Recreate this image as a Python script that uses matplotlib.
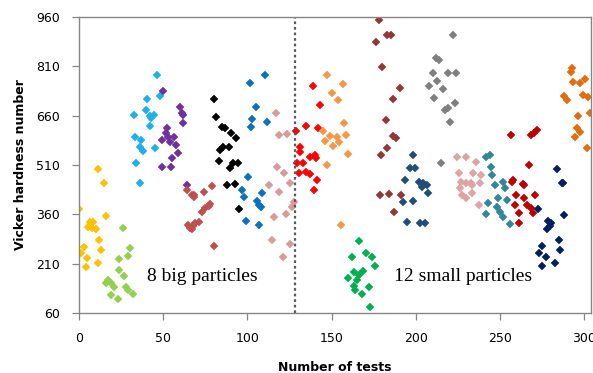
import matplotlib
matplotlib.use("Agg")
import matplotlib.pyplot as plt

# Hardness readings per particle: (test number, Vickers hardness)
p1_x = [0, 16, 6.5, 8.5, 5.5, 8, 10, 12, 3, 1, 13, 5, 11, 4, 11, 15]
p1_y = [376, 356, 338, 338, 322, 318, 314, 282, 262, 241, 252, 226, 211, 201, 498, 455]
p2_x = [26, 30, 24, 29, 24, 27, 17, 19, 21, 28, 19, 23, 32, 29, 16]
p2_y = [318, 259, 223, 233, 191, 172, 160, 150, 138, 140, 115, 102, 118, 130, 150]
p3_x = [46.5, 48, 40.5, 39.5, 32.5, 42, 44.5, 43, 42, 33, 37, 36, 38, 45, 34, 36]
p3_y = [784, 721, 710, 677, 663, 659, 662, 652, 629, 594, 586, 566, 553, 561, 515, 456]
p4_x = [50, 60, 61, 62, 61.5, 52, 51.5, 53, 56.5, 49, 54, 57.5, 58.5, 55.5, 49.5, 54.5, 64]
p4_y = [736, 685, 669, 662, 639, 622, 606, 596, 596, 586, 581, 571, 547, 530, 503, 503, 449]
p5_x = [64, 67, 68.5, 65, 67, 68, 74, 79, 75, 77, 78, 73, 71, 69, 67.5, 66, 80]
p5_y = [434, 419, 412, 328, 314, 419, 429, 446, 378, 385, 391, 368, 338, 333, 323, 318, 264]
p6_x = [80, 81.5, 85, 86.5, 90, 93.5, 85.5, 89, 84, 83, 91.5, 94.5, 89.5, 88, 92.5, 95]
p6_y = [710, 655, 626, 621, 608, 591, 564, 566, 556, 522, 517, 517, 500, 449, 451, 375]
p7_x = [101.5, 110.5, 105, 103, 102, 111.5, 100.5, 96.5, 98, 108.5, 105.5, 107, 108, 99, 107]
p7_y = [758, 784, 685, 649, 626, 642, 474, 434, 414, 424, 402, 388, 381, 341, 328]
p8_x = [117, 119, 123.5, 117.5, 122, 125.5, 113, 118.5, 127.5, 126.5, 123, 115.5, 114.5, 125, 121]
p8_y = [667, 601, 604, 505, 485, 454, 449, 429, 398, 383, 361, 353, 282, 270, 229]

s1_x = [139, 143, 135, 129, 142, 131, 131.5, 137, 140, 141, 129.5, 133, 134.5, 137, 141.5, 130.5, 139.5]
s1_y = [750, 692, 629, 614, 621, 566, 550, 535, 540, 530, 517, 515, 490, 483, 464, 485, 434]
s2_x = [147, 157, 150, 154, 157.5, 145, 149, 146, 153, 158.5, 151, 154.5, 159.5, 147, 155.5]
s2_y = [784, 756, 728, 707, 639, 614, 598, 584, 596, 601, 568, 581, 543, 510, 328]
s3_x = [166, 170.5, 174, 162, 176, 163.5, 168.5, 166.5, 160, 165, 163, 172, 164, 168, 172.5]
s3_y = [280, 243, 231, 229, 203, 186, 189, 176, 166, 160, 142, 140, 130, 118, 79]
s4_x = [178, 183, 176.5, 180, 182, 183, 179.5, 185, 190.5, 186.5, 186.5, 188, 179, 184, 191, 187]
s4_y = [951, 905, 883, 809, 647, 561, 540, 905, 743, 710, 598, 591, 419, 422, 419, 368]
s5_x = [198.5, 196.5, 199.5, 193.5, 202, 204.5, 206.5, 207.5, 192.5, 198.5, 194.5, 202.5, 205.5, 203.5]
s5_y = [540, 500, 500, 464, 459, 454, 449, 424, 398, 401, 338, 333, 333, 444]
s6_x = [222, 212, 214, 210, 219, 224, 212.5, 208, 216, 210.5, 223.5, 219, 217.5, 220.5, 215]
s6_y = [905, 834, 829, 791, 791, 789, 765, 750, 740, 715, 698, 682, 677, 642, 515]
s7_x = [224.5, 229.5, 236, 225.5, 234, 238.5, 227, 232.5, 238, 230, 233.5, 227.5, 229.5, 233.5, 237.5, 226.5]
s7_y = [535, 535, 518, 485, 485, 480, 459, 456, 454, 454, 449, 419, 409, 424, 388, 439]
s8_x = [241.5, 244, 244.5, 245, 252, 247, 253, 243, 249, 254, 241.5, 250, 252, 256, 248]
s8_y = [535, 540, 505, 480, 459, 449, 439, 395, 409, 404, 361, 368, 353, 331, 381]
s9_x = [256.5, 268.5, 272, 270, 267, 257.5, 263.5, 257, 264, 259.5, 264, 270.5, 259, 266, 268.5, 261, 269.5, 261]
s9_y = [601, 601, 616, 608, 510, 464, 451, 459, 449, 419, 409, 419, 388, 388, 378, 365, 365, 333]
s10_x = [284, 287, 287.5, 272.5, 288, 278.5, 280.5, 279.5, 278, 285, 285.5, 275, 273, 277, 275, 282.5]
s10_y = [497, 456, 454, 375, 358, 341, 335, 325, 314, 282, 252, 264, 241, 229, 203, 211]
s11_x = [292.5, 292, 293.5, 297.5, 300.5, 288, 290, 299.5, 302.5, 296.5, 303.5, 295.5, 297.5, 294.5, 301.5]
s11_y = [804, 794, 763, 758, 773, 719, 709, 723, 716, 659, 667, 621, 611, 594, 561]

series = [
    (p1_x, p1_y, "#FFC000"), (p2_x, p2_y, "#92D050"), (p3_x, p3_y, "#1CB0EC"),
    (p4_x, p4_y, "#7030A0"), (p5_x, p5_y, "#C0504D"), (p6_x, p6_y, "#000000"),
    (p7_x, p7_y, "#0A72C4"), (p8_x, p8_y, "#DA9A9A"),
    (s1_x, s1_y, "#FF0000"), (s2_x, s2_y, "#F79646"), (s3_x, s3_y, "#00B050"),
    (s4_x, s4_y, "#943634"), (s5_x, s5_y, "#1F4E79"), (s6_x, s6_y, "#7F7F7F"),
    (s7_x, s7_y, "#E0A3A3"), (s8_x, s8_y, "#31859C"), (s9_x, s9_y, "#C00000"),
    (s10_x, s10_y, "#002060"), (s11_x, s11_y, "#E46C0A"),
]

x_ticks = [0, 50, 100, 150, 200, 250, 300]
y_ticks = [60, 210, 360, 510, 660, 810, 960]
split_at = 128

fig = plt.figure(figsize=(5.93, 3.73), dpi=100)
ax = fig.add_axes([0.1332, 0.1609, 0.8634, 0.7935])

for xs, ys, c in series:
    ax.plot(xs, ys, linestyle="none", marker="D", markersize=4.5,
            markerfacecolor=c, markeredgecolor=c, markeredgewidth=0.3)

ax.axvline(split_at, color="#595959", linestyle=(0, (1.2, 1.3)), linewidth=1.6)

ax.set_xlim(0, 304)
ax.set_ylim(60, 960)
ax.set_xticks(x_ticks)
ax.set_yticks(y_ticks)
ax.tick_params(axis="both", direction="out", length=5, width=0.9, color="#868686",
               labelsize=9, labelcolor="#000000", pad=9)
for sp in ax.spines.values():
    sp.set_color("#868686")
    sp.set_linewidth(1.0)

ax.set_xlabel("Number of tests", fontsize=9, fontweight="bold", labelpad=11)
ax.set_ylabel("Vicker hardness number", fontsize=9, fontweight="bold", labelpad=6)

ax.text(40.5, 172, "8 big particles", fontsize=14, family="Liberation Serif", va="center")
ax.text(187, 172, "12 small particles", fontsize=14, family="Liberation Serif", va="center")

fig.savefig("out.png", dpi=100)
